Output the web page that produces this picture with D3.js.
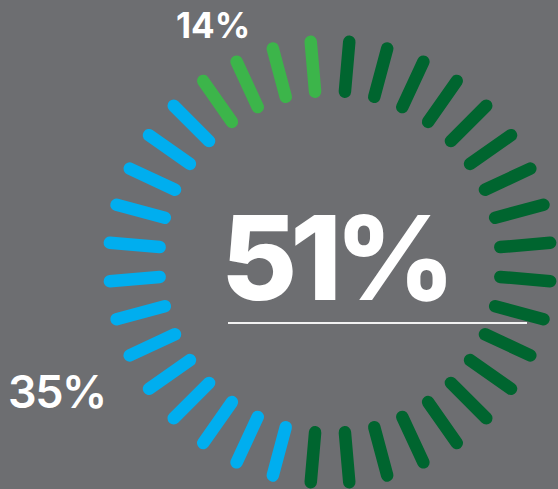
<!DOCTYPE html>
<html>
<head>
<meta charset="utf-8">
<title>Radial tick donut</title>
<script src="https://d3js.org/d3.v7.min.js"></script>
<style>
  html, body { margin: 0; padding: 0; background: #6d6e71; }
  svg { display: block; }
</style>
</head>
<body>
<div id="my_dataviz"></div>
<script>
// data
const segments = ["A", "B", "C"];
const percents = [51, 35, 14];
const tickCounts = [19, 13, 4];   // ticks drawn per segment, clockwise from top
const colors = ["#00652f", "#00aeef", "#3cb54a"];
const labels = ["51%", "35%", "14%"];

const width = 558, height = 489;
const cx = 330, cy = 262;
const rInner = 171, rOuter = 221;

const svg = d3.select("#my_dataviz")
  .append("svg")
    .attr("width", width)
    .attr("height", height);

svg.append("rect")
  .attr("width", width)
  .attr("height", height)
  .attr("fill", "#6d6e71");

// one entry per tick
const totalTicks = d3.sum(tickCounts);
const ticks = [];
segments.forEach((s, i) => {
  for (let k = 0; k < tickCounts[i]; k++) ticks.push({ seg: s, idx: ticks.length });
});

// angle scale, clockwise from 12 o'clock, half-step offset
const angle = d3.scaleLinear()
  .domain([0, totalTicks])
  .range([0, 2 * Math.PI]);
const step = angle(1);
const color = d3.scaleOrdinal().domain(segments).range(colors);

const g = svg.append("g").attr("transform", `translate(${cx},${cy})`);

g.selectAll("line.tick")
  .data(ticks)
  .join("line")
    .attr("class", "tick")
    .attr("x1", d => rInner * Math.sin(angle(d.idx) + step / 2))
    .attr("y1", d => -rInner * Math.cos(angle(d.idx) + step / 2))
    .attr("x2", d => rOuter * Math.sin(angle(d.idx) + step / 2))
    .attr("y2", d => -rOuter * Math.cos(angle(d.idx) + step / 2))
    .attr("stroke", d => color(d.seg))
    .attr("stroke-width", 12.5)
    .attr("stroke-linecap", "round");

const font = "Inter, Lato, sans-serif";

// big number
svg.append("text")
  .attr("x", 221)
  .attr("y", 300)
  .attr("fill", "#ffffff")
  .style("font-family", font)
  .style("font-weight", 800)
  .style("font-size", "117px")
  .style("letter-spacing", "-7px")
  .text(labels[0]);

svg.append("line")
  .attr("x1", 228).attr("x2", 527)
  .attr("y1", 323).attr("y2", 323)
  .attr("stroke", "#f2f2f2")
  .attr("stroke-width", 2);

svg.append("text")
  .attr("x", 8)
  .attr("y", 408)
  .attr("fill", "#ffffff")
  .style("font-family", font)
  .style("font-weight", 600)
  .style("font-size", "45px")
  .style("letter-spacing", "-1.5px")
  .text(labels[1]);

svg.append("text")
  .attr("x", 176)
  .attr("y", 38)
  .attr("fill", "#ffffff")
  .style("font-family", font)
  .style("font-weight", 700)
  .style("font-size", "35px")
  .style("letter-spacing", "0px")
  .text(labels[2]);
</script>
</body>
</html>
